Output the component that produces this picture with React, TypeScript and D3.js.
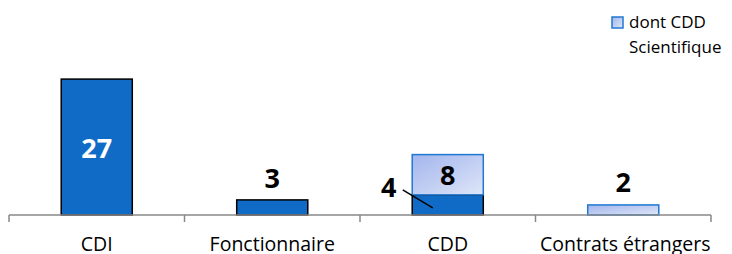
import React, { useRef, useEffect } from "react";
import * as d3 from "d3";

const categories = ["CDI", "Fonctionnaire", "CDD", "Contrats étrangers"];
const mainValues = [27, 3, 4, 0];
const scientValues = [0, 0, 8, 2];
const legendLines = ["dont CDD", "Scientifique"];

const W = 732;
const H = 254;
const FONT = "'Open Sans', 'DejaVu Sans', sans-serif";

const Chart = () => {
  const ref = useRef<SVGSVGElement>(null);

  useEffect(() => {
    const svg = d3.select(ref.current);
    svg.selectAll("*").remove();

    const baseY = 215;
    const x = d3.scaleBand().domain(categories).range([9, 711]).padding(0);
    const y = d3.scaleLinear().domain([0, 30]).range([baseY, 64]);
    const barW = x.bandwidth() * 0.405;
    const cx = (c: string) => (x(c) as number) + x.bandwidth() / 2;

    const defs = svg.append("defs");
    const grad = defs
      .append("linearGradient")
      .attr("id", "lightGrad")
      .attr("x1", "0%")
      .attr("y1", "0%")
      .attr("x2", "100%")
      .attr("y2", "100%");
    grad.append("stop").attr("offset", "0%").attr("stop-color", "#a2b5ed");
    grad.append("stop").attr("offset", "100%").attr("stop-color", "#dfe6f8");

    const g = svg.append("g");

    // main (dark) bars
    categories.forEach((c, i) => {
      const v = mainValues[i];
      if (v <= 0) return;
      g.append("rect")
        .attr("x", cx(c) - barW / 2)
        .attr("y", y(v))
        .attr("width", barW)
        .attr("height", baseY - y(v))
        .attr("fill", "#0f6bc6")
        .attr("stroke", "#000")
        .attr("stroke-width", 1.5);
    });

    // "dont CDD Scientifique" stacked on top
    categories.forEach((c, i) => {
      const v = scientValues[i];
      if (v <= 0) return;
      const y0 = y(mainValues[i]);
      const y1 = y(mainValues[i] + v);
      g.append("rect")
        .attr("x", cx(c) - barW / 2)
        .attr("y", y1)
        .attr("width", barW)
        .attr("height", y0 - y1)
        .attr("fill", "url(#lightGrad)")
        .attr("stroke", "#1f78d1")
        .attr("stroke-width", 1.5);
    });

    // axis
    const axis = g.append("g");
    axis
      .append("line")
      .attr("x1", 9)
      .attr("x2", 711)
      .attr("y1", baseY)
      .attr("y2", baseY)
      .attr("stroke", "#888")
      .attr("stroke-width", 1.5);
    const ticks = categories.map((c) => x(c) as number).concat([711]);
    ticks.forEach((t) => {
      axis
        .append("line")
        .attr("x1", t)
        .attr("x2", t)
        .attr("y1", baseY)
        .attr("y2", baseY + 7)
        .attr("stroke", "#888")
        .attr("stroke-width", 1.5);
    });
    categories.forEach((c) => {
      axis
        .append("text")
        .attr("x", cx(c) + (c === "Contrats étrangers" ? 2 : 0))
        .attr("y", 251)
        .attr("text-anchor", "middle")
        .attr("font-family", FONT)
        .attr("font-size", 19.5)
        .attr("fill", "#000")
        .text(c);
    });

    const label = (tx: number, ty: number, t: number, fill = "#000") =>
      g
        .append("text")
        .attr("x", tx)
        .attr("y", ty)
        .attr("text-anchor", "middle")
        .attr("font-family", FONT)
        .attr("font-weight", "bold")
        .attr("font-size", 27)
        .attr("fill", fill)
        .text(t);

    // value labels
    label(cx(categories[0]), (y(mainValues[0]) + baseY) / 2 + 11, mainValues[0], "#fff");
    label(cx(categories[1]), y(mainValues[1]) - 12, mainValues[1]);
    label(cx(categories[2]), (y(mainValues[2]) + y(mainValues[2] + scientValues[2])) / 2 + 10, scientValues[2]);
    label(cx(categories[3]), y(scientValues[3]) - 13, scientValues[3]);

    // CDD main value with leader line
    const cddMid = (y(mainValues[2]) + baseY) / 2;
    g.append("line")
      .attr("x1", cx(categories[2]) - 45)
      .attr("y1", cddMid - 15)
      .attr("x2", cx(categories[2]) - 15)
      .attr("y2", cddMid + 3)
      .attr("stroke", "#000")
      .attr("stroke-width", 1.5);
    label(cx(categories[2]) - 59, cddMid - 8, mainValues[2]);

    // legend
    const lg = svg.append("g");
    lg.append("rect")
      .attr("x", 612)
      .attr("y", 17)
      .attr("width", 11)
      .attr("height", 11)
      .attr("fill", "url(#lightGrad)")
      .attr("stroke", "#1f78d1")
      .attr("stroke-width", 1.5);
    legendLines.forEach((t, i) => {
      lg.append("text")
        .attr("x", 629)
        .attr("y", 28 + i * 25)
        .attr("font-family", FONT)
        .attr("font-size", 17)
        .attr("fill", "#000")
        .text(t);
    });
  }, []);

  return <svg ref={ref} width={W} height={H} style={{ display: "block" }} />;
};

export default function App() {
  return (
    <div style={{ position: "absolute", left: 0, top: 0, width: W, height: H, background: "#fff" }}>
      <Chart />
    </div>
  );
}
